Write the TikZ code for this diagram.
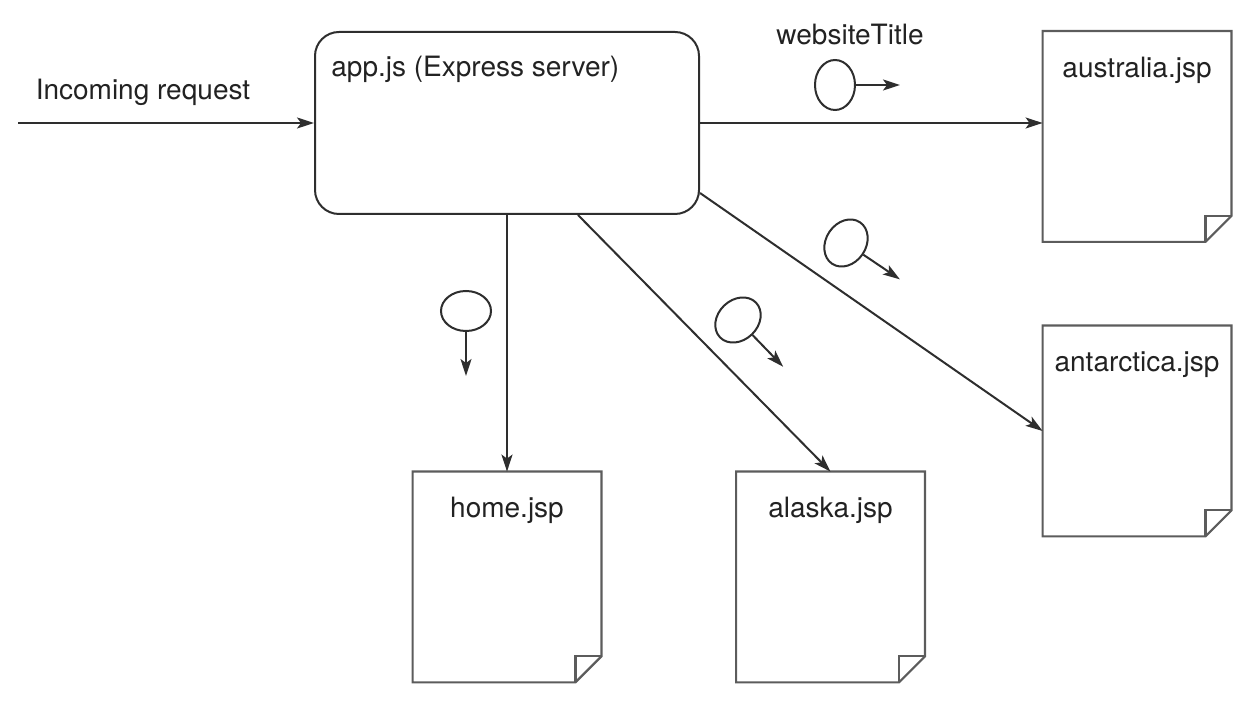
\documentclass[tikz,border=0pt]{standalone}
\usepackage{fontspec}
\setmainfont{TeX Gyre Heros}
\usetikzlibrary{arrows.meta,shapes.geometric}
\definecolor{linegray}{HTML}{2E2E2E}
\definecolor{pagegray}{HTML}{5C5C5C}
\definecolor{textgray}{HTML}{222222}
\tikzset{
  appbox/.style={draw=linegray, line width=1pt, rounded corners=12pt,
    minimum width=192pt, minimum height=91pt, inner sep=0pt},
  jsppage/.style={minimum width=94pt, minimum height=105pt, inner sep=0pt},
  pageline/.style={draw=pagegray, line width=1.1pt, line join=miter},
  pagetitle/.style={inner sep=0pt, text=textgray},
  msgoval/.style={draw=linegray, line width=1pt, ellipse, minimum width=20pt,
    minimum height=25pt, inner sep=0pt},
  flow/.style={draw=linegray, line width=1pt,
    -{Stealth[length=8.5pt,width=5.5pt,inset=2pt]}}
}
\begin{document}
\begin{tikzpicture}[x=0.5pt,y=-0.5pt,font=\fontsize{14}{17}\selectfont]
\useasboundingbox (0,0) rectangle (1248,710);

% server and pages
\node[appbox] (app) at (507,123) {};
\node[pagetitle, anchor=west] (apptitle) at ([xshift=8.5pt,yshift=-19pt]app.north west) {app.js (Express server)};

\node[jsppage] (australia) at (1137,136.5) {};
\node[jsppage] (antarctica) at (1137,431) {};
\node[jsppage] (home) at (507,577) {};
\node[jsppage] (alaska) at (830.5,577) {};

\foreach \p in {home,alaska,antarctica,australia}{
  \draw[pageline] (\p.north west) -- (\p.north east) -- ([yshift=13pt]\p.south east)
    -- ([xshift=-13pt]\p.south east) -- (\p.south west) -- cycle;
  \draw[pageline] ([xshift=-13pt]\p.south east) -- ([xshift=-13pt,yshift=13pt]\p.south east)
    -- ([yshift=13pt]\p.south east);
  \node[pagetitle] (\p title) at ([yshift=-19.5pt]\p.north) {\p.jsp};
}

% request and routes
\coordinate (in) at (18,123);
\node[pagetitle] (inlabel) at (143,92) {Incoming request};
\draw[flow] (in) -- (app.west);
\draw[flow] (app.east) -- (app.east -| australia.west);
\draw[flow] ([yshift=11pt]app.south east) -- (antarctica.west);
\draw[flow] ([xshift=35.5pt]app.south) -- (alaska.north);
\draw[flow] (app.south) -- (home.north);

% messages
\node[pagetitle] (msglabel) at (850,35) {websiteTitle};
\node[msgoval] (msgtitle) at (835,85) {};
\node[msgoval, rotate=-90] (msghome) at (466,311) {};
\node[msgoval, rotate=-46] (msgalaska) at (738,320) {};
\node[msgoval, rotate=-34] (msgantarctica) at (846,243) {};
\foreach \m/\a in {msgtitle/0, msghome/-90, msgalaska/-46, msgantarctica/-34}{
  \coordinate (\m end) at ([shift={(\a:22pt)}]\m.east);
  \draw[flow] (\m.east) -- (\m end);
}
\end{tikzpicture}
\end{document}
